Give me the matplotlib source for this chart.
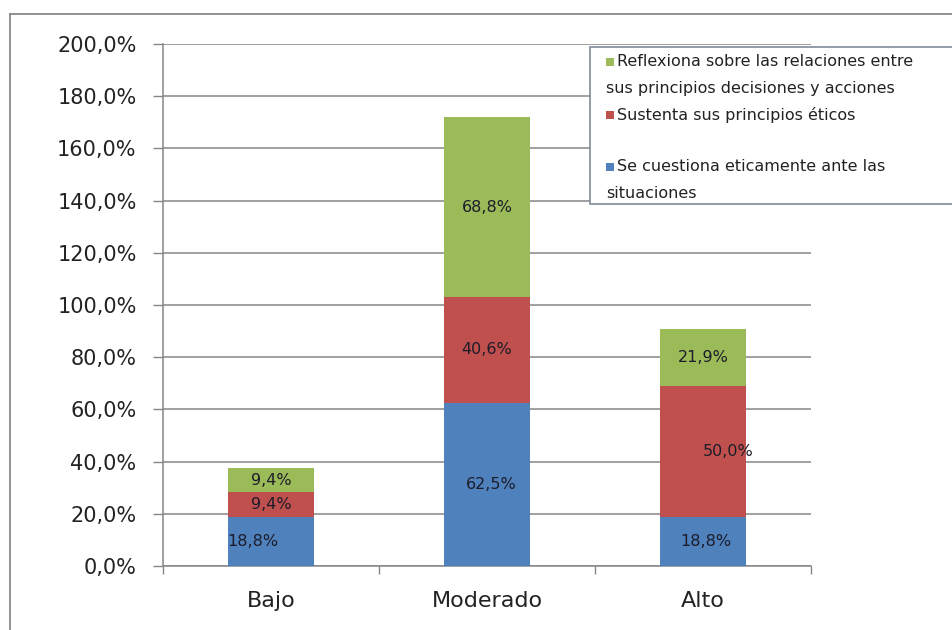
import matplotlib
matplotlib.use('Agg')
import matplotlib.pyplot as plt
from matplotlib.patches import Rectangle
from matplotlib.lines import Line2D
import numpy as np

plt.rcParams['font.family'] = ['DejaVu Sans']

# Data
categories = ['Bajo', 'Moderado', 'Alto']
cuestiona = [18.8, 62.5, 18.8]
sustenta = [9.4, 40.6, 50.0]
reflexiona = [9.4, 68.8, 21.9]
y_ticks = [0, 20, 40, 60, 80, 100, 120, 140, 160, 180, 200]

series = [
    (cuestiona, '#4F81BD', 'Se cuestiona eticamente ante las\nsituaciones'),
    (sustenta, '#C0504D', 'Sustenta sus principios éticos'),
    (reflexiona, '#9BBB59', 'Reflexiona sobre las relaciones entre\nsus principios decisiones y acciones'),
]
# small manual nudges of some data labels (category units), as in the original
label_dx = [[-0.085, 0.02, 0.015], [0, 0, 0.115], [0, 0, 0]]

W, H = 952, 630
fig = plt.figure(figsize=(W / 100, H / 100), dpi=100)
fig.patch.set_facecolor('white')

def px(x, y):
    return x / W, 1 - y / H

# outer chart border (cut off at right/bottom like the screenshot)
fig.add_artist(Line2D([10 / W, 10 / W], [0, 1 - 14 / H], color='#808080', lw=1.2))
fig.add_artist(Line2D([10 / W, 1], [1 - 14 / H, 1 - 14 / H], color='#808080', lw=1.2))

l, b = px(163, 566)
r, t = px(811, 44)
ax = fig.add_axes([l, b, r - l, t - b])

x = np.arange(len(categories))
bottom = np.zeros(len(categories))
for (vals, color, name), dxs in zip(series, label_dx):
    vals = np.array(vals)
    ax.bar(x, vals, width=0.4, bottom=bottom, color=color, zorder=3)
    for i, v in enumerate(vals):
        ax.text(x[i] + dxs[i], bottom[i] + v / 2, f'{v:.1f}%'.replace('.', ','),
                ha='center', va='center', fontsize=11.5, color='#1c1c2a', zorder=4)
    bottom += vals

ax.set_xlim(-0.5, len(categories) - 0.5)
ax.set_ylim(0, 200)
ax.set_yticks(y_ticks)
ax.set_yticklabels([f'{v:.1f}%'.replace('.', ',') for v in y_ticks])
ax.yaxis.grid(True, color='#868686', lw=1.1, zorder=0)
ax.tick_params(axis='y', length=7, width=1, color='#868686', pad=12,
               labelsize=15, labelcolor='#222222')

ax.set_xticks(np.arange(len(categories) + 1) - 0.5)
ax.set_xticklabels([])
ax.tick_params(axis='x', which='major', length=6, width=1, color='#868686')
ax.set_xticks(x, minor=True)
ax.set_xticklabels(categories, minor=True)
ax.tick_params(axis='x', which='minor', length=0, pad=18, labelsize=16,
               labelcolor='#222222')

for s in ['top', 'right']:
    ax.spines[s].set_visible(False)
for s in ['left', 'bottom']:
    ax.spines[s].set_color('#868686')
    ax.spines[s].set_linewidth(1.1)

# legend, drawn Excel-style (text wraps under the marker)
lx0, ly0 = px(590, 204)
lx1, ly1 = px(960, 47)
fig.add_artist(Rectangle((lx0, ly0), lx1 - lx0, ly1 - ly0, transform=fig.transFigure,
                         facecolor='white', edgecolor='#7f8c9a', lw=1.2, zorder=5))
legend_rows = [(series[2], 62), (series[1], 115), (series[0], 167)]
for (vals, color, name), y0 in legend_rows:
    sx, sy = px(606, y0 + 4)
    fig.add_artist(Rectangle((sx, sy), 8 / W, 8 / H, transform=fig.transFigure,
                             facecolor=color, edgecolor='none', zorder=6))
    lines = name.split('\n')
    tx, ty = px(617, y0)
    fig.text(tx, ty, lines[0], ha='left', va='center', fontsize=11.5,
             color='#222222', zorder=7)
    for k, extra in enumerate(lines[1:]):
        tx2, ty2 = px(606, y0 + 26 * (k + 1))
        fig.text(tx2, ty2, extra, ha='left', va='center', fontsize=11.5,
                 color='#222222', zorder=7)

fig.savefig('out.png', dpi=100, facecolor='white')
